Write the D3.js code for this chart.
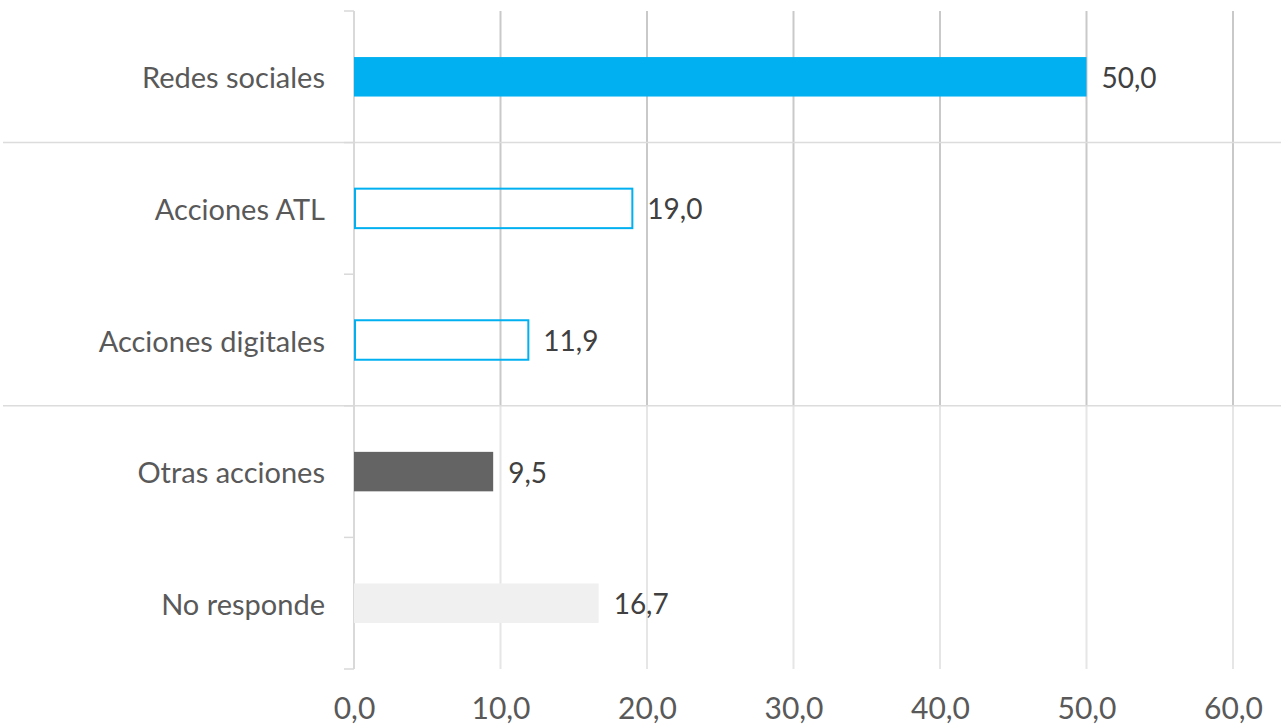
<!DOCTYPE html>
<html>
<head>
<meta charset="utf-8">
<script src="https://cdn.jsdelivr.net/npm/d3@7"></script>
<style>
  html, body { margin: 0; padding: 0; background: #fff; }
  svg { display: block; }
  text { font-family: Lato, "Open Sans", sans-serif; }
</style>
</head>
<body>
<svg id="chart" width="1281" height="725"></svg>
<script>
const categories = ["Redes sociales", "Acciones ATL", "Acciones digitales", "Otras acciones", "No responde"];
const values = [50.0, 19.0, 11.9, 9.5, 16.7];
const barStyles = ["solid-blue", "outline-blue", "outline-blue", "dark", "light"];
const tickValues = [0, 10, 20, 30, 40, 50, 60];

const fmt = v => v.toFixed(1).replace(".", ",");

const svg = d3.select("#chart");
const x = d3.scaleLinear().domain([0, 60]).range([354, 1233]);
const y = d3.scaleBand().domain(categories).range([11, 669]).paddingInner(0).paddingOuter(0);
const barH = y.bandwidth() * 0.3;

// vertical gridlines, darker in upper block, lighter in lower block
const splitY = y(categories[3]);
svg.append("g").selectAll("line").data(tickValues.slice(1)).join("line")
  .attr("x1", d => x(d)).attr("x2", d => x(d))
  .attr("y1", y.range()[0]).attr("y2", splitY)
  .attr("stroke", "#c9c9c9").attr("stroke-width", 2);
svg.append("g").selectAll("line").data(tickValues.slice(1)).join("line")
  .attr("x1", d => x(d)).attr("x2", d => x(d))
  .attr("y1", splitY).attr("y2", y.range()[1])
  .attr("stroke", "#e6e6e6").attr("stroke-width", 2);

// horizontal separators
[y(categories[1]), y(categories[3])].forEach(yy => {
  svg.append("line").attr("x1", 3).attr("x2", 1281).attr("y1", yy).attr("y2", yy)
    .attr("stroke", "#dcdcdc").attr("stroke-width", 1.5);
});

// y axis line and ticks
const bounds = [y.range()[0]].concat(categories.map(c => y(c) + y.bandwidth()));
svg.append("line").attr("x1", 354).attr("x2", 354).attr("y1", y.range()[0]).attr("y2", y.range()[1])
  .attr("stroke", "#d9d9d9").attr("stroke-width", 2);
svg.append("g").selectAll("line").data(bounds).join("line")
  .attr("x1", 344).attr("x2", 354).attr("y1", d => d).attr("y2", d => d)
  .attr("stroke", "#d9d9d9").attr("stroke-width", 1.5);

// category labels
svg.append("g").selectAll("text").data(categories).join("text")
  .attr("x", 325).attr("y", d => y(d) + y.bandwidth() / 2)
  .attr("text-anchor", "end").attr("dominant-baseline", "central")
  .attr("font-size", 29).attr("fill", "#595959")
  .text(d => d);

// bars
const bars = svg.append("g");
categories.forEach((c, i) => {
  const st = barStyles[i];
  const yy = y(c) + (y.bandwidth() - barH) / 2;
  const r = bars.append("rect").attr("y", yy).attr("height", barH);
  if (st === "solid-blue") {
    r.attr("x", x(0)).attr("width", x(values[i]) - x(0)).attr("fill", "#00b0f0");
  } else if (st === "outline-blue") {
    r.attr("x", x(0) + 1).attr("width", x(values[i]) - x(0) - 1)
      .attr("fill", "none").attr("stroke", "#00b0f0").attr("stroke-width", 2);
  } else if (st === "dark") {
    r.attr("x", x(0)).attr("width", x(values[i]) - x(0)).attr("fill", "#646464");
  } else {
    r.attr("x", x(0)).attr("width", x(values[i]) - x(0)).attr("fill", "#f0f0f0");
  }
  bars.append("text")
    .attr("x", x(values[i]) + 15).attr("y", y(c) + y.bandwidth() / 2)
    .attr("dominant-baseline", "central")
    .attr("font-size", 28).attr("fill", "#404040")
    .text(fmt(values[i]));
});

// x axis tick labels
const xAxis = d3.axisBottom(x).tickValues(tickValues).tickSize(0).tickFormat(fmt);
const xa = svg.append("g").attr("transform", "translate(0,707)").call(xAxis);
xa.select(".domain").remove();
xa.selectAll("text").attr("font-size", 30).attr("fill", "#595959")
  .attr("font-family", "Lato, 'Open Sans', sans-serif")
  .attr("y", 0).attr("dy", null).attr("dominant-baseline", "central");
</script>
</body>
</html>
